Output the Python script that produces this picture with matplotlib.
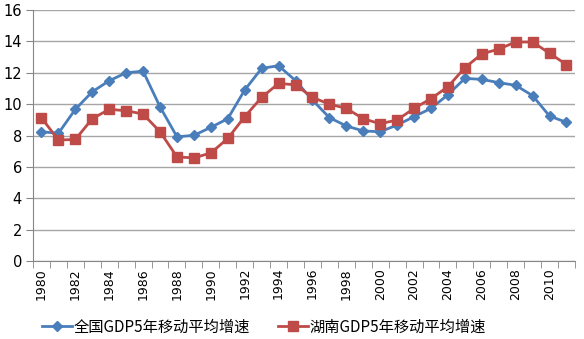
import matplotlib
matplotlib.use("Agg")
import matplotlib.pyplot as plt
from matplotlib.ticker import FixedLocator, MultipleLocator

plt.rcParams['font.family'] = ['Noto Sans CJK SC', 'DejaVu Sans']

years = list(range(1980, 2012))
national = [8.24, 8.14, 9.67, 10.79, 11.49, 12.0, 12.1, 9.83, 7.92, 8.01,
            8.52, 9.07, 10.9, 12.28, 12.45, 11.5, 10.26, 9.14, 8.61, 8.29,
            8.24, 8.67, 9.2, 9.73, 10.6, 11.64, 11.58, 11.37, 11.2, 10.54,
            9.24, 8.84]
hunan = [9.13, 7.71, 7.75, 9.07, 9.67, 9.58, 9.37, 8.24, 6.64, 6.57,
         6.89, 7.81, 9.2, 10.43, 11.32, 11.23, 10.43, 10.0, 9.73, 9.07,
         8.75, 8.99, 9.73, 10.35, 11.11, 12.32, 13.2, 13.51, 13.96, 13.96,
         13.24, 12.52]
series_names = ['全国GDP5年移动平均增速', '湖南GDP5年移动平均增速']

fig = plt.figure(figsize=(5.84, 3.39), dpi=100)
ax = fig.add_axes([0.0565, 0.230, 0.928, 0.7405])

x = list(range(len(years)))
ax.plot(x, national, color='#4a7ebb', lw=2, marker='D', ms=5,
        mfc='#4a7ebb', mec='#4a7ebb', label=series_names[0])
ax.plot(x, hunan, color='#be4b48', lw=2, marker='s', ms=7,
        mfc='#be4b48', mec='#be4b48', label=series_names[1])

ax.set_xlim(-0.5, len(years) - 0.5)
ax.set_ylim(0, 16)
ax.yaxis.set_major_locator(MultipleLocator(2))
ax.grid(axis='y', color='#a6a6a6', lw=1)
ax.set_axisbelow(True)

# year labels on even years, tick marks at category boundaries
ax.set_xticks([i for i, y in enumerate(years) if y % 2 == 0])
ax.set_xticklabels([str(y) for y in years if y % 2 == 0], rotation=90,
                   fontsize=9, family=['DejaVu Sans'])
ax.xaxis.set_minor_locator(FixedLocator([i - 0.5 for i in range(len(years) + 1)]))
ax.tick_params(axis='x', which='major', length=0, pad=5)
ax.tick_params(axis='x', which='minor', length=5, color='#868686')
ax.tick_params(axis='y', length=5, color='#868686', labelsize=10.5, pad=3)
for lab in ax.get_yticklabels():
    lab.set_family(['DejaVu Sans'])

for side in ['top', 'right']:
    ax.spines[side].set_visible(False)
for side in ['left', 'bottom']:
    ax.spines[side].set_color('#868686')

fig.legend(loc='center', bbox_to_anchor=(0.452, 0.035), ncol=2, frameon=False,
           fontsize=11, handlelength=2.0, columnspacing=1.8, handletextpad=0.1)

fig.savefig('out.png', dpi=100)
